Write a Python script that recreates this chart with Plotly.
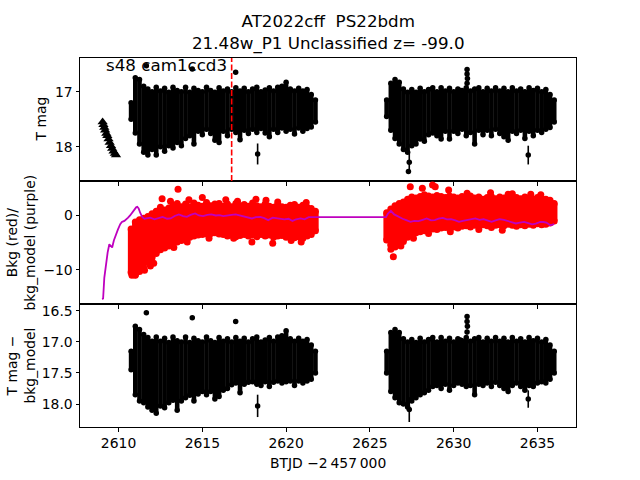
import plotly.graph_objects as go
from plotly.subplots import make_subplots

# ---------------- data ----------------
t_seg1 = [2610.75, 2611.0, 2611.25, 2611.5, 2611.75, 2612.0, 2612.25, 2612.5, 2612.75, 2613.0,
          2613.25, 2613.5, 2613.75, 2614.0, 2614.25, 2614.5, 2614.75, 2615.0, 2615.25, 2615.5,
          2615.75, 2616.0, 2616.25, 2616.5, 2616.75, 2617.0, 2617.25, 2617.5, 2617.75, 2618.0,
          2618.25, 2618.5, 2618.75, 2619.0, 2619.25, 2619.5, 2619.75, 2620.0, 2620.25, 2620.5,
          2620.75, 2621.0, 2621.25, 2621.5, 2621.75]
t_seg2 = [2626.0, 2626.25, 2626.5, 2626.75, 2627.0, 2627.25, 2627.5, 2627.75, 2628.0, 2628.25,
          2628.5, 2628.75, 2629.0, 2629.25, 2629.5, 2629.75, 2630.0, 2630.25, 2630.5, 2630.75,
          2631.0, 2631.25, 2631.5, 2631.75, 2632.0, 2632.25, 2632.5, 2632.75, 2633.0, 2633.25,
          2633.5, 2633.75, 2634.0, 2634.25, 2634.5, 2634.75, 2635.0, 2635.25, 2635.5, 2635.75,
          2636.0]

# Panel 1: T mag envelope (bright edge / faint edge)
tmag_top1 = [17.2, 16.75, 16.78, 16.9, 16.95, 17.0, 16.92, 16.99, 16.94, 17.01, 16.92, 16.98, 17.0,
             16.92, 17.01, 16.94, 16.98, 17.0, 16.92, 16.98, 17.01, 16.93, 16.99, 16.95, 17.0, 16.93,
             16.99, 16.94, 17.0, 16.95, 16.92, 17.0, 16.97, 16.93, 16.99, 16.92, 16.9, 16.83, 16.95,
             16.99, 16.94, 16.99, 16.96, 17.05, 17.15]
tmag_bot1 = [17.5, 17.75, 17.95, 18.1, 18.15, 18.05, 18.15, 18.0, 18.08, 17.98, 18.02, 17.92, 17.98,
             17.85, 17.8, 17.95, 17.72, 17.78, 17.68, 17.76, 17.88, 17.92, 17.72, 17.8, 17.68, 17.74,
             17.87, 17.7, 17.76, 17.68, 17.74, 17.67, 17.75, 17.82, 17.68, 17.74, 17.66, 17.72, 17.68,
             17.77, 17.66, 17.72, 17.67, 17.64, 17.55]
tmag_top2 = [17.15, 16.85, 16.78, 16.83, 16.95, 17.01, 16.96, 17.01, 16.94, 17.0, 16.96, 16.93,
             17.0, 16.93, 16.99, 16.94, 17.0, 16.95, 16.98, 16.93, 16.99, 16.95, 16.93, 17.0, 16.94,
             16.99, 16.93, 16.99, 16.94, 17.0, 16.93, 16.99, 16.95, 17.0, 16.93, 16.98, 16.94, 17.0,
             16.96, 17.05, 17.15]
tmag_bot2 = [17.45, 17.7, 17.85, 17.95, 18.05, 18.1, 17.98, 17.95, 17.86, 17.9, 17.78, 17.75, 17.8,
             17.86, 17.72, 17.86, 17.72, 17.76, 17.68, 17.8, 17.74, 17.95, 17.7, 17.78, 17.7, 17.8,
             17.68, 17.76, 17.82, 17.88, 17.72, 17.76, 17.7, 17.85, 17.72, 17.8, 17.7, 17.74, 17.68,
             17.65, 17.55]

# Panel 1: triangles (early points)
tri_t = [2609.05, 2609.1, 2609.15, 2609.2, 2609.27, 2609.33, 2609.4, 2609.47, 2609.55, 2609.62,
         2609.7, 2609.78, 2609.85]
tri_mag = [17.55, 17.6, 17.65, 17.7, 17.76, 17.8, 17.86, 17.92, 17.98, 18.03, 18.08, 18.12, 18.15]

# Panel 1: isolated points with error bars
out1_t = [2611.66, 2614.40, 2616.99, 2618.30, 2627.35, 2634.45, 2630.80, 2630.80, 2630.82, 2630.80,
          2630.40, 2627.30]
out1_mag = [16.53, 16.59, 16.65, 18.13, 18.28, 18.15, 16.60, 16.68, 16.76, 16.85, 16.98, 18.45]
out1_err = [0.02, 0.02, 0.02, 0.19, 0.2, 0.17, 0.04, 0.04, 0.04, 0.04, 0.03, 0.04]

# Panel 3: T mag - bkg_model envelope
diff_top1 = [17.15, 16.75, 16.8, 16.88, 16.93, 16.99, 16.92, 16.99, 16.94, 17.01, 16.92, 16.98,
             17.0, 16.92, 17.01, 16.94, 16.98, 17.0, 16.92, 16.98, 17.01, 16.93, 16.99, 16.95, 17.0,
             16.93, 16.99, 16.94, 17.0, 16.95, 16.92, 17.0, 16.97, 16.93, 16.99, 16.92, 16.9, 16.82,
             16.95, 16.99, 16.94, 16.99, 16.96, 17.05, 17.15]
diff_bot1 = [17.45, 17.85, 17.95, 17.98, 18.05, 18.1, 18.15, 18.03, 18.06, 17.98, 17.94, 18.1, 17.95,
             17.9, 17.86, 17.95, 17.84, 17.8, 17.85, 17.8, 17.92, 17.88, 17.78, 17.75, 17.69, 17.66,
             17.82, 17.68, 17.65, 17.64, 17.68, 17.7, 17.64, 17.72, 17.65, 17.63, 17.66, 17.64, 17.63,
             17.7, 17.63, 17.66, 17.63, 17.6, 17.5]
diff_top2 = [17.15, 16.85, 16.8, 16.85, 16.95, 17.0, 16.96, 17.01, 16.94, 17.0, 16.96, 16.93, 17.0,
             16.93, 16.99, 16.94, 17.0, 16.95, 16.98, 16.93, 16.99, 16.95, 16.93, 17.0, 16.94, 16.99,
             16.93, 16.99, 16.94, 17.0, 16.93, 16.99, 16.95, 17.0, 16.93, 16.98, 16.94, 17.0, 16.96,
             17.05, 17.15]
diff_bot2 = [17.5, 17.8, 17.9, 17.98, 18.0, 18.05, 17.95, 17.9, 17.85, 17.82, 17.78, 17.72, 17.7,
             17.75, 17.68, 17.78, 17.7, 17.66, 17.68, 17.72, 17.7, 17.85, 17.68, 17.7, 17.66, 17.72,
             17.65, 17.7, 17.75, 17.8, 17.7, 17.66, 17.72, 17.78, 17.7, 17.72, 17.66, 17.64, 17.66,
             17.6, 17.5]
out3_t = [2611.66, 2614.40, 2616.99, 2618.30, 2627.35, 2634.45, 2630.80, 2630.80, 2630.82, 2630.80,
          2630.40]
out3_mag = [16.53, 16.61, 16.67, 18.03, 18.09, 17.92, 16.59, 16.67, 16.75, 16.84, 16.97]
out3_err = [0.02, 0.02, 0.02, 0.18, 0.2, 0.14, 0.04, 0.04, 0.04, 0.04, 0.03]

# Panel 2: background (red) envelope
bkg_top1 = [-2.5, -1.2, -0.8, -0.5, -0.2, 0.3, 0.8, 1.5, 1.0, 1.4, 1.9, 2.2, 1.6, 2.1, 1.6, 2.3, 1.9,
            1.7, 2.4, 1.8, 2.1, 2.2, 1.7, 2.1, 1.6, 2.2, 1.8, 2.0, 1.7, 2.3, 1.8, 1.6, 2.1, 1.7, 1.5,
            2.0, 1.6, 1.5, 1.9, 2.0, 1.5, 1.9, 1.5, 1.3, 0.8]
bkg_bot1 = [-10.5, -11.0, -10.3, -9.8, -8.5, -7.8, -7.0, -6.3, -6.0, -5.6, -5.2, -4.9, -4.6, -4.4,
            -4.0, -3.8, -3.6, -3.5, -3.4, -3.3, -3.2, -3.4, -3.5, -3.8, -3.6, -3.9, -3.7, -3.5, -3.8,
            -3.6, -3.9, -3.5, -3.8, -3.6, -4.0, -3.8, -3.7, -4.0, -3.8, -4.1, -3.9, -4.2, -3.8, -3.5,
            -2.8]
bkg_top2 = [0.5, 1.2, 1.8, 2.2, 2.5, 3.0, 3.4, 3.2, 3.5, 3.8, 3.6, 3.4, 3.7, 3.5, 3.3, 3.6, 3.4, 3.2,
            3.5, 3.3, 3.6, 3.2, 3.4, 3.0, 3.3, 3.5, 3.1, 3.4, 3.2, 3.9, 3.5, 3.3, 3.1, 3.4, 3.2, 3.0,
            3.3, 3.1, 3.0, 2.8, 2.2]
bkg_bot2 = [-4.5, -5.5, -5.8, -5.3, -4.8, -4.0, -3.5, -3.2, -3.0, -2.8, -2.6, -2.5, -2.6, -2.3, -2.2,
            -2.4, -2.1, -2.3, -2.0, -1.9, -2.1, -1.8, -2.0, -1.7, -1.9, -2.2, -1.8, -1.7, -1.9, -1.6,
            -1.8, -2.0, -1.7, -1.9, -1.6, -1.8, -1.5, -1.7, -1.6, -1.4, -1.0]
bkg_out_t = [2610.8, 2611.0, 2611.55, 2611.9, 2612.1, 2612.6, 2613.55, 2613.1, 2614.2, 2615.0,
             2615.4, 2616.4, 2616.87, 2617.1, 2617.96, 2618.2, 2618.8, 2619.2, 2619.5, 2620.3,
             2620.9, 2621.2, 2613.3, 2614.1,
             2626.4, 2626.25, 2626.85, 2627.41, 2628.13, 2628.74, 2628.9, 2629.7, 2627.6, 2628.5,
             2630.8, 2632.2, 2633.5, 2634.6, 2632.9, 2635.2, 2631.5, 2629.8]
bkg_out_v = [-11.0, -10.9, -10.1, -9.3, -8.8, 3.1, 4.85, 2.6, 2.9, 3.3,
             -4.2, 2.9, -4.2, 2.6, -4.9, 3.0, 2.8, -5.1, 2.5, -4.6,
             -4.9, 2.4, -5.9, -4.9,
             -7.6, -6.2, -5.6, 5.3, 5.0, 5.6, 5.3, 4.7, -4.2, -3.3,
             4.1, 4.2, 4.0, 3.9, -2.7, 3.8, -2.6, -3.0]

# Panel 2: background model (purple)
model_t = [2609.02, 2609.08, 2609.15, 2609.25, 2609.35, 2609.45, 2609.55, 2609.62, 2609.72, 2609.84,
           2609.96, 2610.1, 2610.2, 2610.35, 2610.45, 2610.57, 2610.69, 2610.8, 2610.93, 2611.05,
           2611.12, 2611.2, 2611.29, 2611.42, 2611.55, 2611.66, 2611.9, 2612.14, 2612.4, 2612.63,
           2612.9, 2613.11, 2613.35, 2613.6, 2613.85, 2614.08, 2614.3, 2614.57, 2614.8, 2615.05,
           2615.3, 2615.54, 2615.8, 2616.02, 2616.25, 2616.51, 2616.75, 2616.99, 2617.25, 2617.48,
           2617.7, 2617.96, 2618.2, 2618.45, 2618.7, 2618.93, 2619.2, 2619.41, 2619.65, 2619.9,
           2620.15, 2620.38, 2620.6, 2620.87, 2621.1, 2621.35, 2621.72, 2625.96, 2626.08, 2626.25,
           2626.45, 2626.69, 2626.95, 2627.17, 2627.42, 2627.65, 2627.9, 2628.15, 2628.39, 2628.65,
           2628.87, 2629.1, 2629.35, 2629.6, 2629.84, 2630.1, 2630.32, 2630.55, 2630.81, 2631.05,
           2631.29, 2631.55, 2631.78, 2632.0, 2632.26, 2632.5, 2632.74, 2633.0, 2633.23, 2633.45,
           2633.71, 2633.95, 2634.2, 2634.45, 2634.68, 2634.9, 2635.17, 2635.35, 2635.53, 2635.77,
           2636.0]
model_v = [-15.4, -15.3, -11.5, -8.5, -6.8, -5.3, -5.6, -5.9, -4.6, -3.4,
           -2.6, -1.6, -1.2, -1.0, -0.8, -0.4, 0.0, 0.5, 1.0, 1.5,
           1.6, 1.3, 0.5, -0.3, -0.6, -0.55, -0.4, -0.7, -0.5, -0.25,
           -0.6, -0.55, -0.1, 0.2, -0.1, -0.25, 0.1, 0.37, 0.0, -0.1,
           0.1, 0.2, 0.0, 0.06, -0.1, -0.05, 0.1, 0.2, 0.0, -0.25,
           -0.4, -0.55, -0.3, -0.25, -0.5, -0.86, -0.4, -0.45, -0.6, -0.7,
           -0.6, -1.0, -0.7, -0.55, -0.7, -0.3, -0.3, -0.3, 0.37, 0.86,
           0.2, -0.25, -0.6, -0.86, -1.17, -1.0, -1.05, -0.8, -0.55, -0.9,
           -0.86, -0.6, -0.43, -0.7, -0.67, -0.9, -1.17, -1.0, -0.86, -0.7,
           -0.55, -0.8, -0.67, -0.9, -1.17, -0.9, -0.67, -0.8, -0.98, -1.2,
           -1.47, -1.3, -1.17, -1.4, -1.65, -1.5, -1.17, -1.2, -1.3, -1.8,
           -1.6]

marker_time = 2616.75
x_ticks = [2610, 2615, 2620, 2625, 2630, 2635]

FONT = "DejaVu Sans"
BLACK = "#000000"
RED = "#ff0000"
PURPLE = "#bf00bf"


def segments(ts, lo, hi):
    xs, ys = [], []
    for t, a, b in zip(ts, lo, hi):
        xs += [t, t, None]
        ys += [a, b, None]
    return xs, ys


fig = make_subplots(rows=3, cols=1, shared_xaxes=True, vertical_spacing=0)


def add_band(ts, top, bot, row, color, lw, msize):
    xs, ys = segments(ts, top, bot)
    fig.add_trace(go.Scatter(x=xs, y=ys, mode="lines", line=dict(color=color, width=lw),
                             hoverinfo="skip", showlegend=False), row=row, col=1)
    fig.add_trace(go.Scatter(x=ts + ts, y=top + bot, mode="markers",
                             marker=dict(color=color, size=msize, line=dict(width=0)),
                             hoverinfo="skip", showlegend=False), row=row, col=1)


# Panel 1
add_band(t_seg1, tmag_top1, tmag_bot1, 1, BLACK, 4.6, 5.5)
add_band(t_seg2, tmag_top2, tmag_bot2, 1, BLACK, 4.6, 5.5)
fig.add_trace(go.Scatter(x=out1_t, y=out1_mag, mode="markers",
                         marker=dict(color=BLACK, size=5.5),
                         error_y=dict(type="data", array=out1_err, color=BLACK, thickness=1.6, width=0),
                         showlegend=False), row=1, col=1)
fig.add_trace(go.Scatter(x=tri_t, y=tri_mag, mode="markers",
                         marker=dict(color=BLACK, size=9, symbol="triangle-up", line=dict(width=0)),
                         showlegend=False), row=1, col=1)

# Panel 2
add_band(t_seg1, bkg_top1, bkg_bot1, 2, RED, 6.5, 7)
add_band(t_seg2, bkg_top2, bkg_bot2, 2, RED, 6.5, 7)
fig.add_trace(go.Scatter(x=bkg_out_t, y=bkg_out_v, mode="markers",
                         marker=dict(color=RED, size=7), showlegend=False), row=2, col=1)
fig.add_trace(go.Scatter(x=model_t, y=model_v, mode="lines",
                         line=dict(color=PURPLE, width=1.8), showlegend=False), row=2, col=1)

# Panel 3
add_band(t_seg1, diff_top1, diff_bot1, 3, BLACK, 4.6, 5.5)
add_band(t_seg2, diff_top2, diff_bot2, 3, BLACK, 4.6, 5.5)
fig.add_trace(go.Scatter(x=out3_t, y=out3_mag, mode="markers",
                         marker=dict(color=BLACK, size=5.5),
                         error_y=dict(type="data", array=out3_err, color=BLACK, thickness=1.6, width=0),
                         showlegend=False), row=3, col=1)

# red dashed marker line in panel 1
fig.add_shape(type="line", xref="x", yref="y domain", x0=marker_time, x1=marker_time, y0=0, y1=1,
              line=dict(color=RED, width=1.6, dash="6px,2.5px"), layer="above")

axis_common = dict(showline=True, linecolor=BLACK, linewidth=1, mirror=True, ticks="outside",
                   ticklen=3.5, tickwidth=0.8, tickcolor=BLACK, showgrid=False, zeroline=False,
                   tickfont=dict(family=FONT, size=13.9, color=BLACK))

fig.update_xaxes(**axis_common, range=[2607.7, 2637.3], tickvals=x_ticks)
fig.update_xaxes(showticklabels=False, row=1, col=1)
fig.update_xaxes(showticklabels=False, row=2, col=1)
fig.update_yaxes(**axis_common)
fig.update_yaxes(range=[18.62, 16.39], tickvals=[17, 18], ticktext=["17", "18"], row=1, col=1)
fig.update_yaxes(range=[-16.3, 6.35], tickvals=[0, -10], ticktext=["0", "\u221210"], row=2, col=1)
fig.update_yaxes(range=[18.37, 16.39], tickvals=[16.5, 17.0, 17.5, 18.0],
                 ticktext=["16.5", "17.0", "17.5", "18.0"], row=3, col=1)

annots = [
    dict(text="AT2022cff\u00a0 PS22bdm<br>21.48w_P1 Unclassified z= -99.0", xref="paper", yref="paper",
         x=0.5, y=1, xanchor="center", yanchor="bottom", yshift=2, showarrow=False,
         font=dict(family=FONT, size=16.7, color=BLACK)),
    dict(text="s48 cam1ccd3", xref="x", yref="y", x=2609.15, y=16.51, xanchor="left", yanchor="middle",
         showarrow=False, font=dict(family=FONT, size=16.7, color=BLACK)),
    dict(text="T mag", xref="paper", yref="y domain", x=(40 - 80) / 496, y=0.5, xanchor="center",
         yanchor="middle", textangle=-90, showarrow=False, font=dict(family=FONT, size=13.9, color=BLACK)),
    dict(text="Bkg (red)/<br>bkg_model (purple)", xref="paper", yref="y2 domain", x=(20 - 80) / 496,
         y=0.5, xanchor="center", yanchor="middle", textangle=-90, showarrow=False,
         font=dict(family=FONT, size=13.9, color=BLACK)),
    dict(text="T mag \u2212<br>bkg_model", xref="paper", yref="y3 domain", x=(20 - 80) / 496,
         y=0.5, xanchor="center", yanchor="middle", textangle=-90, showarrow=False,
         font=dict(family=FONT, size=13.9, color=BLACK)),
    dict(text="BTJD \u22122\u2009457\u2009000", xref="paper", yref="paper", x=0.5, y=0, xanchor="center",
         yanchor="top", yshift=-26, showarrow=False, font=dict(family=FONT, size=13.9, color=BLACK)),
]
fig.update_layout(annotations=annots, width=640, height=480,
                  margin=dict(l=80, r=64, t=58, b=53, pad=0),
                  paper_bgcolor="white", plot_bgcolor="white", showlegend=False,
                  font=dict(family=FONT, color=BLACK))

fig.write_html("out.html", config={"displayModeBar": False},
               post_script="document.body.style.margin='0';")
